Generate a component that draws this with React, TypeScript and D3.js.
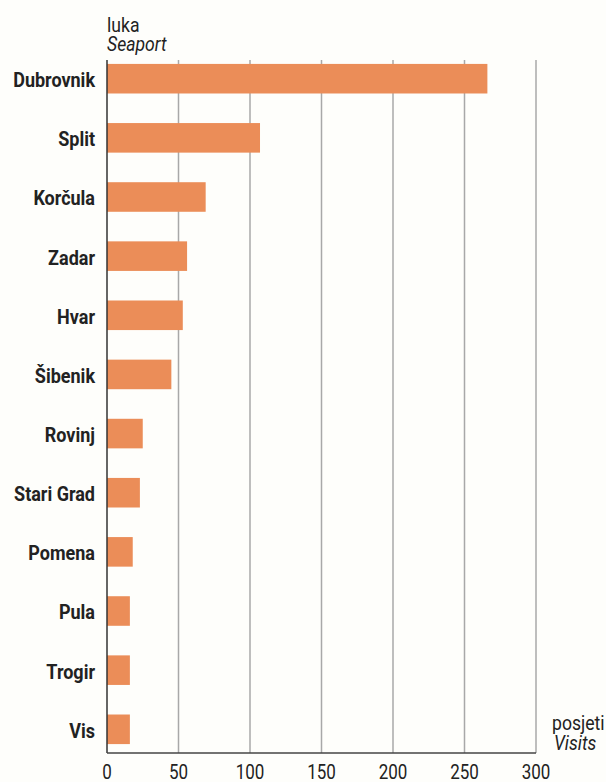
import * as d3 from "d3";
import { useEffect, useRef } from "react";

const ports = [
  "Dubrovnik", "Split", "Korčula", "Zadar", "Hvar", "Šibenik",
  "Rovinj", "Stari Grad", "Pomena", "Pula", "Trogir", "Vis"
];
const visits = [266, 107, 69, 56, 53, 45, 25, 23, 18, 16, 16, 16];
const xTicks = [0, 50, 100, 150, 200, 250, 300];

const W = 606;
const H = 782;
const FONT = "Roboto, 'Liberation Sans', sans-serif";

export default function App() {
  const ref = useRef<SVGSVGElement | null>(null);

  useEffect(() => {
    if (!ref.current) return;
    const svg = d3.select(ref.current);
    svg.selectAll("*").remove();

    const left = 107;
    const right = 536;
    const top = 60;
    const axisY = 753;

    const x = d3.scaleLinear().domain([0, 300]).range([left, right]);
    const y = d3.scaleBand<string>()
      .domain(ports)
      .range([58, 750])
      .paddingInner(0.5)
      .paddingOuter(0.1);

    svg.append("rect").attr("width", W).attr("height", H).attr("fill", "#fefefb");

    // grid lines
    svg.append("g")
      .selectAll("line")
      .data(xTicks.slice(1))
      .join("line")
      .attr("x1", d => x(d))
      .attr("x2", d => x(d))
      .attr("y1", top)
      .attr("y2", axisY)
      .attr("stroke", "#a8a8a8")
      .attr("stroke-width", 1.5);

    // bars
    svg.append("g")
      .selectAll("rect")
      .data(ports)
      .join("rect")
      .attr("x", x(0))
      .attr("y", d => y(d)!)
      .attr("width", (_, i) => x(visits[i]) - x(0))
      .attr("height", y.bandwidth())
      .attr("fill", "#eb8d58");

    // axis lines
    svg.append("line")
      .attr("x1", x(0)).attr("x2", x(0))
      .attr("y1", top).attr("y2", axisY)
      .attr("stroke", "#333").attr("stroke-width", 1.5);
    svg.append("line")
      .attr("x1", x(0)).attr("x2", x(300))
      .attr("y1", axisY).attr("y2", axisY)
      .attr("stroke", "#444").attr("stroke-width", 1.5);

    // category labels, squeezed to look condensed
    svg.append("g")
      .selectAll("text")
      .data(ports)
      .join("text")
      .attr("transform", d => `translate(95,${y(d)! + y.bandwidth() / 2}) scale(0.9,1)`)
      .attr("dy", "0.42em")
      .attr("text-anchor", "end")
      .attr("font-family", FONT)
      .attr("font-weight", "bold")
      .attr("font-size", 20)
      .attr("fill", "#222")
      .text(d => d);

    // tick labels
    svg.append("g")
      .selectAll("text")
      .data(xTicks)
      .join("text")
      .attr("transform", d => `translate(${x(d)},779) scale(0.85,1)`)
      .attr("text-anchor", "middle")
      .attr("font-family", FONT)
      .attr("font-size", 20)
      .attr("fill", "#222")
      .text(d => d);

    // axis titles
    const titles = [
      { t: "luka", x: left, y: 32, italic: false },
      { t: "Seaport", x: left, y: 51, italic: true },
      { t: "posjeti", x: 552, y: 730, italic: false },
      { t: "Visits", x: 554, y: 750, italic: true }
    ];
    svg.append("g")
      .selectAll("text")
      .data(titles)
      .join("text")
      .attr("transform", d => `translate(${d.x},${d.y}) scale(0.88,1)`)
      .attr("font-family", FONT)
      .attr("font-size", 20)
      .attr("font-style", d => (d.italic ? "italic" : "normal"))
      .attr("fill", "#222")
      .text(d => d.t);
  }, []);

  return (
    <svg
      ref={ref}
      width={W}
      height={H}
      style={{ position: "absolute", left: 0, top: 0 }}
    />
  );
}
